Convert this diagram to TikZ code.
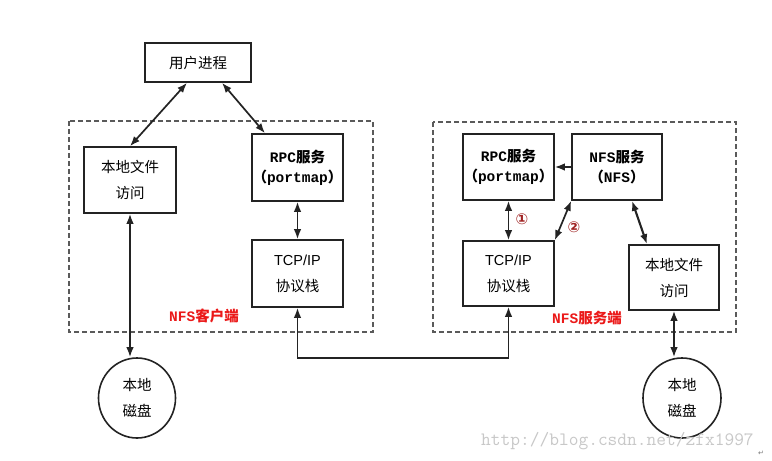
\documentclass[tikz,border=0pt]{standalone}
\usepackage{fontspec}
\setmainfont{Noto Sans CJK SC}
\newfontfamily\latinsans{Liberation Sans}
\newfontfamily\latinmono{Liberation Mono}
\newfontfamily\circfont{DejaVu Sans}
\usetikzlibrary{arrows.meta,calc,shapes.geometric}
\definecolor{ln}{RGB}{35,35,35}
\definecolor{grpc}{RGB}{90,90,90}
\definecolor{lbl}{RGB}{235,25,25}
\definecolor{num}{RGB}{160,35,35}
\definecolor{wm}{RGB}{200,200,200}
\begin{document}
\begin{tikzpicture}[x=1pt,y=-1pt,
  box/.style={draw=ln,line width=1.6pt,rectangle,inner sep=0pt,align=center,fill=white,
              font=\fontsize{14.5}{26}\selectfont},
  rpcbox/.style={box,font=\fontsize{14.5}{20}\selectfont},
  disk/.style={draw=ln,line width=1.6pt,ellipse,inner sep=0pt,align=center,
               font=\fontsize{14.5}{26}\selectfont},
  con/.style={draw=ln,line width=1.7pt},
  dbl/.style={con,{Latex[length=10pt,width=7.5pt]}-{Latex[length=10pt,width=7.5pt]}},
  sgl/.style={con,-{Latex[length=10pt,width=7.5pt]}},
  grp/.style={draw=grpc,line width=1.3pt,dash pattern=on 5pt off 3pt},
  grplbl/.style={text=lbl,font=\bfseries\fontsize{14.5}{16}\selectfont},
  numlbl/.style={text=num,font=\circfont\bfseries\fontsize{15}{16}\selectfont,inner sep=0pt}
]
\useasboundingbox (0,0) rectangle (772,461);
\fill[white] (0,0) rectangle (772,461);

% group frames
\draw[grp] (69,121) rectangle (373,332);
\draw[grp] (433,122) rectangle (736,332);

% nodes
\node[box,minimum width=106pt,minimum height=39pt] (user) at (198,62.5) {用户进程};

\node[box,minimum width=92pt,minimum height=66pt] (lf1) at (130,180) {本地文件\\访问};
\node[rpcbox,minimum width=91pt,minimum height=67pt] (rpc1) at (297.5,167.5)
  {{\bfseries\latinmono RPC}{\bfseries 服务}\\{\bfseries （{\latinmono portmap}）}};
\node[box,minimum width=91pt,minimum height=67pt] (tcp1) at (297.5,273.5)
  {{\latinsans TCP/IP}\\协议栈};

\node[rpcbox,minimum width=91pt,minimum height=66pt] (rpc2) at (508.5,167)
  {{\bfseries\latinmono RPC}{\bfseries 服务}\\{\bfseries （{\latinmono portmap}）}};
\node[rpcbox,minimum width=90pt,minimum height=66pt] (nfs) at (617,167)
  {{\bfseries\latinmono NFS}{\bfseries 服务}\\{\bfseries （{\latinmono NFS}）}};
\node[box,minimum width=91pt,minimum height=65pt] (tcp2) at (508.5,273.5)
  {{\latinsans TCP/IP}\\协议栈};
\node[box,minimum width=90pt,minimum height=65pt] (lf2) at (674,277.5) {本地文件\\访问};

\node[disk,minimum width=77pt,minimum height=80pt] (disk1) at (137,398) {本地\\磁盘};
\node[disk,minimum width=78pt,minimum height=80pt] (disk2) at (682,398) {本地\\磁盘};

% group labels
\node[grplbl] (cl) at (204,316) {{\latinmono NFS}客户端};
\node[grplbl] (sl) at (587,318) {{\latinmono NFS}服务端};

% connectors
\draw[dbl] ([xshift=-11pt]user.south) -- (lf1.north);
\draw[dbl] ([xshift=24pt]user.south) -- ([xshift=-32.5pt]rpc1.north);
\draw[dbl] (rpc1.south) -- (tcp1.north);
\draw[dbl] (lf1.south) -- (lf1.south |- disk1.north);

\coordinate (bus) at (400,358);
\draw[dbl] (tcp1.south) -- (tcp1.south |- bus) -| (tcp2.south);

\draw[sgl] (nfs.west) -- (rpc2.east);
\draw[dbl] (rpc2.south) -- (tcp2.north);
\draw[dbl] (nfs.south west) -- (tcp2.north east);
\draw[dbl,line width=2.1pt] ([xshift=15pt]nfs.south) -- ([xshift=-27pt]lf2.north);
\draw[dbl] (lf2.south) -- (lf2.south |- disk2.north);

\node[numlbl] (n1) at (522,219) {①};
\node[numlbl] (n2) at (574,227) {②};

% watermark
\node[text=wm,font=\ttfamily\fontsize{18.9}{20}\selectfont,anchor=west,inner sep=0pt] (wm) at (481,441)
  {http://blog.csdn.net/zfx1997};
\node[text=wm!60!black,font=\circfont\fontsize{7}{8}\selectfont,inner sep=0pt] (ret) at (761,453) {↵};
\end{tikzpicture}
\end{document}
